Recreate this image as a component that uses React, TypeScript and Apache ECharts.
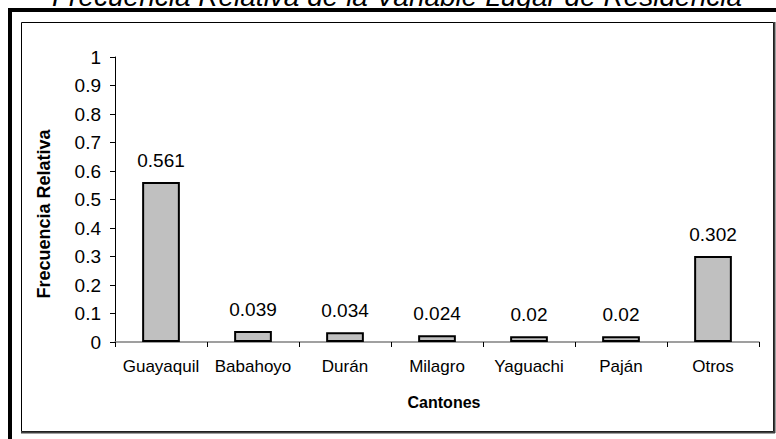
import React, { useEffect, useRef } from "react";
import * as echarts from "echarts";

const categories = ["Guayaquil", "Babahoyo", "Durán", "Milagro", "Yaguachi", "Paján", "Otros"];
const values = [0.561, 0.039, 0.034, 0.024, 0.02, 0.02, 0.302];
const titleText = "Frecuencia Relativa de la Variable Lugar de Residencia";
const xAxisName = "Cantones";
const yAxisName = "Frecuencia Relativa";

const FONT = "Arial, 'Liberation Sans', sans-serif";

export default function App() {
  const ref = useRef<HTMLDivElement>(null);
  useEffect(() => {
    if (!ref.current) return;
    const chart = echarts.init(ref.current, null, { renderer: "svg" });
    chart.setOption({
      animation: false,
      backgroundColor: "#ffffff",
      grid: { left: 115, right: 17, top: 57, bottom: 97, containLabel: false },
      graphic: [
        { type: "rect", shape: { x: 8, y: 8, width: 770, height: 4 }, style: { fill: "#000" } },
        { type: "rect", shape: { x: 8, y: 8, width: 4, height: 440 }, style: { fill: "#000" } },
        { type: "rect", shape: { x: 21.5, y: 22.5, width: 752, height: 409 }, style: { fill: "none", stroke: "#000", lineWidth: 1 } },
        { type: "line", shape: { x1: 774.5, y1: 22, x2: 774.5, y2: 433 }, style: { stroke: "#404040", lineWidth: 2 } },
        { type: "line", shape: { x1: 21, y1: 432.5, x2: 775, y2: 432.5 }, style: { stroke: "#404040", lineWidth: 2 } },
        {
          type: "text",
          x: 397,
          y: 10,
          style: {
            text: titleText,
            font: `italic 28px ${FONT}`,
            fill: "#000",
            align: "center",
            verticalAlign: "bottom",
          },
        },
        {
          type: "text",
          x: 444,
          y: 402,
          style: {
            text: xAxisName,
            font: `bold 16px ${FONT}`,
            fill: "#000",
            align: "center",
            verticalAlign: "middle",
          },
        },
        {
          type: "text",
          x: 44,
          y: 214,
          rotation: Math.PI / 2,
          style: {
            text: yAxisName,
            font: `bold 18px ${FONT}`,
            fill: "#000",
            align: "center",
            verticalAlign: "middle",
          },
        },
      ],
      xAxis: {
        type: "category",
        data: categories,
        axisLine: { show: true, lineStyle: { color: "#808080", width: 1.5 } },
        axisTick: { show: true, alignWithLabel: false, length: 5, inside: false, lineStyle: { color: "#000" } },
        axisLabel: { color: "#000", fontSize: 17, fontFamily: FONT, margin: 16, interval: 0 },
        splitLine: { show: false },
      },
      yAxis: {
        type: "value",
        min: 0,
        max: 1,
        interval: 0.1,
        axisLine: { show: true, lineStyle: { color: "#000", width: 1 } },
        axisTick: { show: true, length: 5, lineStyle: { color: "#000" } },
        axisLabel: {
          color: "#000",
          fontSize: 19,
          fontFamily: FONT,
          margin: 14,
          formatter: (v: number) => String(Math.round(v * 10) / 10),
        },
        splitLine: { show: false },
      },
      series: [
        {
          type: "bar",
          data: values,
          barWidth: "41%",
          itemStyle: { color: "#C0C0C0", borderColor: "#000", borderWidth: 2 },
          label: {
            show: true,
            position: "top",
            distance: 12,
            color: "#000",
            fontSize: 19,
            fontFamily: FONT,
            formatter: (p: any) => String(p.value),
          },
        },
      ],
    });
    return () => chart.dispose();
  }, []);
  return <div ref={ref} style={{ width: 776, height: 439, position: "absolute", left: 0, top: 0 }} />;
}
